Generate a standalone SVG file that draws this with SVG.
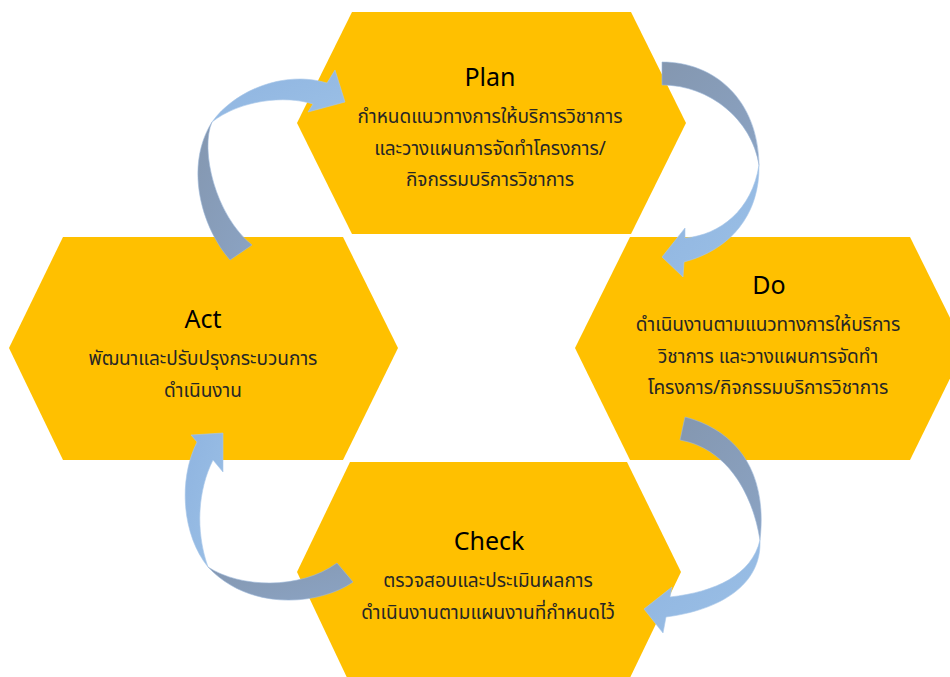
<svg xmlns="http://www.w3.org/2000/svg" width="950" height="677" viewBox="0 0 950 677">
<defs>
<style>
.hex{fill:#FFC000;}
.ttl{font-family:"Noto Sans","DejaVu Sans",sans-serif;font-size:25px;fill:#000;text-anchor:middle;}
.txt{font-family:"Noto Sans Thai","Noto Sans","DejaVu Sans",sans-serif;font-size:19px;fill:#262626;text-anchor:middle;}
.dk{fill:url(#gDark);stroke:#9DB8DA;stroke-width:0.6;}
.lt{fill:url(#gLight);stroke:#A9C8EA;stroke-width:0.6;}
</style>
<linearGradient id="gDark" x1="0" y1="0" x2="1" y2="1">
<stop offset="0" stop-color="#8497B0"/>
<stop offset="1" stop-color="#8BA3C3"/>
</linearGradient>
<linearGradient id="gLight" x1="0" y1="0" x2="1" y2="1">
<stop offset="0" stop-color="#8FB4E0"/>
<stop offset="1" stop-color="#9BC0E6"/>
</linearGradient>
</defs>
<rect width="950" height="677" fill="#FFFFFF"/>

<g id="plan">
<polygon class="hex" points="352,12 631,12 686,123 631,234 352,234 297,123"/>
<text class="ttl" x="490" y="86">Plan</text>
<text class="txt" x="490" y="123">กำหนดแนวทางการให้บริการวิชาการ</text>
<text class="txt" x="490" y="155">และวางแผนการจัดทำโครงการ/</text>
<text class="txt" x="490" y="186">กิจกรรมบริการวิชาการ</text>
</g>

<g id="do">
<polygon class="hex" points="630,237 910,237 965,348 910,460 630,460 575,348"/>
<text class="ttl" x="769" y="294">Do</text>
<text class="txt" x="768" y="331">ดำเนินงานตามแนวทางการให้บริการ</text>
<text class="txt" x="768" y="363">วิชาการ และวางแผนการจัดทำ</text>
<text class="txt" x="768" y="394">โครงการ/กิจกรรมบริการวิชาการ</text>
</g>

<g id="act">
<polygon class="hex" points="63,237 343,237 398,348 343,460 63,460 9,348"/>
<text class="ttl" x="203" y="328">Act</text>
<text class="txt" x="203" y="365">พัฒนาและปรับปรุงกระบวนการ</text>
<text class="txt" x="203" y="397">ดำเนินงาน</text>
</g>

<g id="check">
<polygon class="hex" points="350,462 627,462 681,572 627,684 350,684 297,572"/>
<text class="ttl" x="489" y="550">Check</text>
<text class="txt" x="488" y="587">ตรวจสอบและประเมินผลการ</text>
<text class="txt" x="488" y="619">ดำเนินงานตามแผนงานที่กำหนดไว้</text>
</g>

<g id="connectors">
<g id="act-plan">
<path class="dk" d="M230,260 C200,225 185,165 212,122 C200,150 215,215 252,245 Z"/>
<path class="lt" d="M212,122 C235,90 285,70 327,83 L335,70 L345,102 L308,112 L313,104 C285,95 240,100 212,122 Z"/>
</g>
<g id="plan-do">
<path class="dk" d="M662,62 C715,62 758,100 759,165 C752,120 710,85 662,85 Z"/>
<path class="lt" d="M759,165 C760,215 730,250 684,262 L683,277 L662,257 L685,228 L685,238 C720,235 752,210 759,165 Z"/>
</g>
<g id="do-check">
<path class="dk" d="M685,417 C735,430 768,470 760,540 C752,490 725,448 680,440 Z"/>
<path class="lt" d="M760,540 C762,585 720,610 666,617 L663,633 L644,609 L672,587 L670,597 C715,592 752,575 760,540 Z"/>
</g>
<g id="check-act">
<path class="dk" d="M353,582 C320,605 250,612 208,567 C240,588 300,590 337,563 Z"/>
<path class="lt" d="M208,567 C182,535 178,480 197,442 L191,435 L223,433 L223,472 L213,460 C198,490 195,530 208,567 Z"/>
</g>
</g>
</svg>
